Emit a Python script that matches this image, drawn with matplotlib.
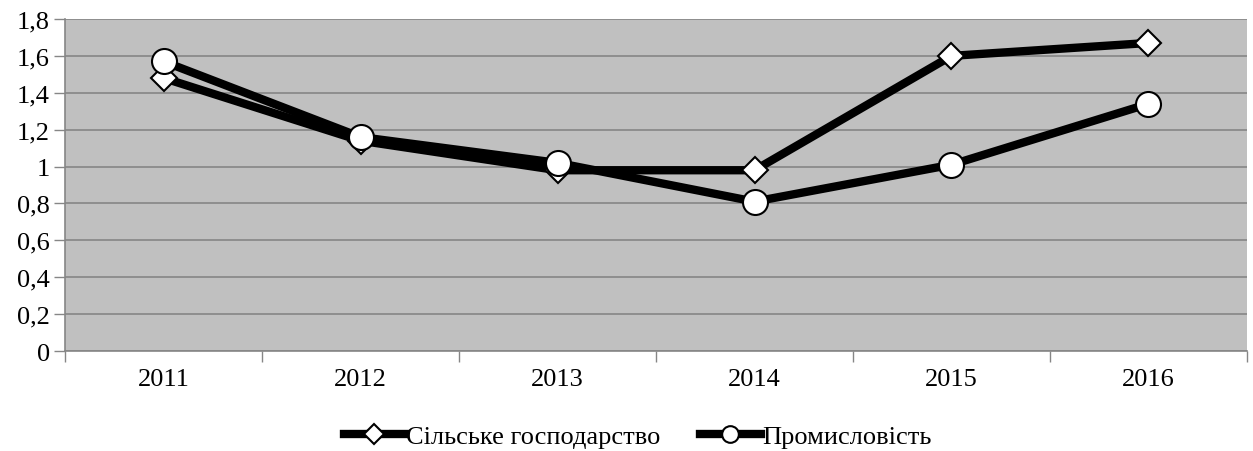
import matplotlib
matplotlib.use("Agg")
import matplotlib.pyplot as plt
from matplotlib.ticker import FixedLocator, FuncFormatter

years = ["2011", "2012", "2013", "2014", "2015", "2016"]
agri = [1.48, 1.14, 0.98, 0.98, 1.60, 1.67]
industry = [1.57, 1.16, 1.02, 0.81, 1.01, 1.34]
labels = ["Сільське господарство", "Промисловість"]
yticks = [0, 0.2, 0.4, 0.6, 0.8, 1.0, 1.2, 1.4, 1.6, 1.8]

plt.rcParams['font.family'] = 'serif'
plt.rcParams['font.serif'] = ['Liberation Serif', 'Times New Roman', 'DejaVu Serif']

fig = plt.figure(figsize=(12.53, 4.52), dpi=100)
ax = fig.add_axes([0.0519, 0.2212, 0.9433, 0.7346])
ax.set_facecolor('#c0c0c0')

x = list(range(len(years)))
ax.plot(x, agri, color='black', lw=6, marker='D', markersize=13,
        markerfacecolor='white', markeredgecolor='black', markeredgewidth=1.5,
        label=labels[0], zorder=3, solid_joinstyle='miter')
ax.plot(x, industry, color='black', lw=6, marker='o', markersize=18,
        markerfacecolor='white', markeredgecolor='black', markeredgewidth=1.5,
        label=labels[1], zorder=3, solid_joinstyle='miter')

ax.set_xlim(-0.5, len(years) - 0.5)
ax.set_ylim(0, 1.8)
ax.set_yticks(yticks)
ax.yaxis.set_major_formatter(FuncFormatter(lambda v, p: ('%g' % round(v, 1)).replace('.', ',')))
ax.set_xticks(x)
ax.set_xticklabels(years)
ax.xaxis.set_minor_locator(FixedLocator([i - 0.5 for i in range(len(years) + 1)]))
ax.tick_params(axis='x', which='major', length=0, pad=12, labelsize=19)
ax.tick_params(axis='x', which='minor', length=8, color='#868686', width=1)
ax.tick_params(axis='y', which='major', length=8, color='#868686', width=1, labelsize=19, pad=3)

ax.grid(axis='y', color='#868686', lw=1.2)
ax.set_axisbelow(True)
for s in ['top', 'right']:
    ax.spines[s].set_visible(False)
for s in ['left', 'bottom']:
    ax.spines[s].set_color('#868686')
    ax.spines[s].set_linewidth(1.2)

leg = fig.legend(loc='center', bbox_to_anchor=(0.509, 0.033), ncol=2, frameon=False,
                 fontsize=19, handlelength=2.3, handletextpad=0.05, columnspacing=1.5)
for line in leg.get_lines():
    line.set_linewidth(6)
leg_handles = leg.legend_handles
leg_handles[0].set_markersize(10)
leg_handles[1].set_markersize(12)

fig.savefig('out.png', dpi=100)
